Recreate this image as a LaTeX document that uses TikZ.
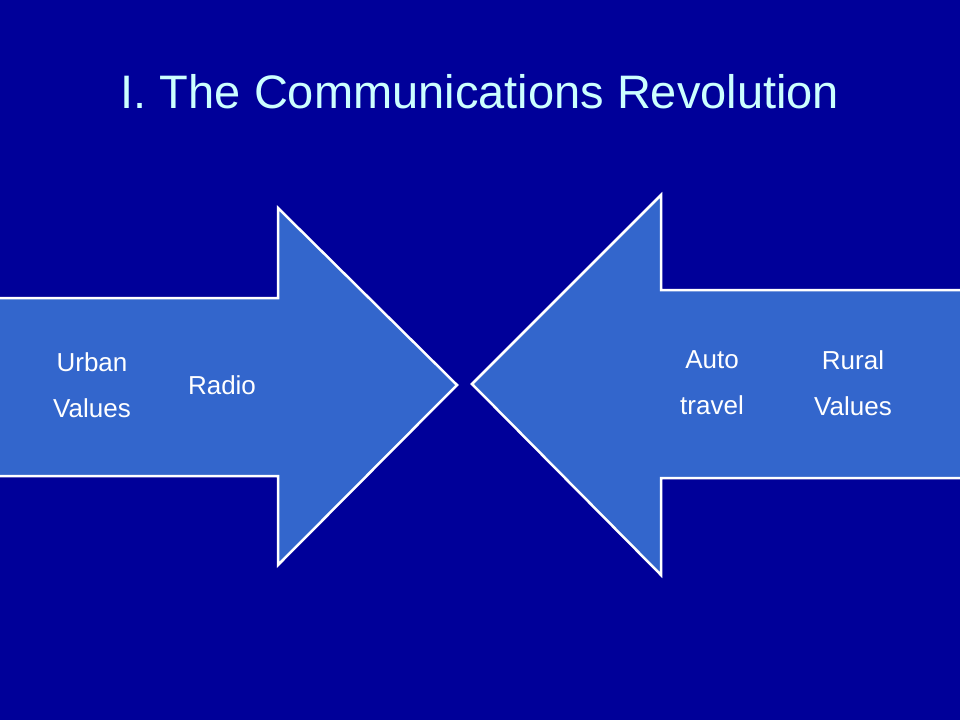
\documentclass[tikz,border=0pt]{standalone}
\usepackage{fontspec}
\setmainfont{Liberation Sans}
\definecolor{bg}{HTML}{000099}
\definecolor{arr}{HTML}{3366CC}
\definecolor{ttl}{HTML}{CCFFFF}
\begin{document}
\begin{tikzpicture}[x=1pt,y=-1pt,
  arrowshape/.style={fill=arr,draw=white,line width=2.5pt,line join=miter},
  lbl/.style={text=white,font=\fontsize{26}{46}\selectfont,align=center}]
\fill[bg] (0,0) rectangle (960,720);
\useasboundingbox (0,0) rectangle (960,720);
\node[text=ttl,font=\fontsize{47}{56}\selectfont] (title) at (480,92) {I. The Communications Revolution};
\draw[arrowshape] (-5,298) -- (278,298) -- (278,208) -- (457,385) -- (278,565) -- (278,476) -- (-5,476) -- cycle;
\draw[arrowshape] (965,290) -- (661,290) -- (661,195) -- (472,384) -- (661,575) -- (661,478) -- (965,478) -- cycle;
\node[lbl] (urban) at (92,385) {Urban\\Values};
\node[lbl] (radio) at (222,385) {Radio};
\node[lbl] (auto) at (712,383) {Auto\\travel};
\node[lbl] (rural) at (853,383) {Rural\\Values};
\end{tikzpicture}
\end{document}
